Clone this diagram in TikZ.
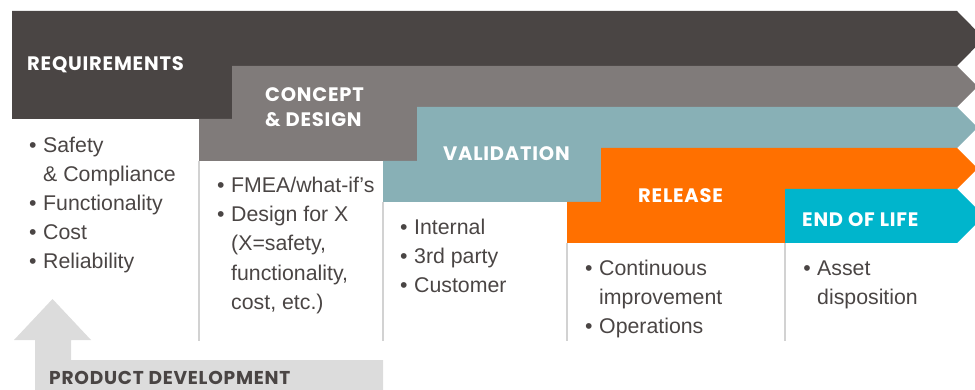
\documentclass[tikz,border=0pt]{standalone}
\usepackage{fontspec}
\setmainfont{Liberation Sans}
\newfontfamily\hdfont{Poppins}[LetterSpace=4]
\definecolor{creq}{HTML}{4A4544}
\definecolor{ccon}{HTML}{807B7A}
\definecolor{cval}{HTML}{88B0B6}
\definecolor{crel}{HTML}{FF7000}
\definecolor{ceol}{HTML}{00B5CC}
\definecolor{cpd}{HTML}{DCDCDC}
\definecolor{cline}{HTML}{D2D2D2}
\definecolor{ctext}{HTML}{4A4544}
\newcommand\bul{\llap{\textbullet\hspace{6.5pt}}}
\tikzset{
  head/.style={anchor=base west, inner sep=0pt, text=white, font=\hdfont\bfseries\fontsize{19.5}{26}\selectfont},
  body/.style={anchor=base west, inner sep=0pt, text=ctext, font=\fontsize{21.3}{29}\selectfont},
  sep/.style={draw=cline, line width=1.6pt},
}
\begin{document}
\begin{tikzpicture}[x=1pt,y=-1pt]
\useasboundingbox (0,0) rectangle (975,390);
\clip (0,0) rectangle (975,390);
% bands
\fill[creq] (12,11) -- (957,11) -- (984,38.5) -- (957,66) -- (232,66) -- (232,119) -- (12,119) -- cycle;
\fill[ccon] (232,66) -- (957,66) -- (977.5,86.5) -- (957,107) -- (417,107) -- (417,161) -- (199,161) -- (199,119) -- (232,119) -- cycle;
\fill[cval] (417,107) -- (957,107) -- (977.5,127.5) -- (957,148) -- (601,148) -- (601,202) -- (383,202) -- (383,161) -- (417,161) -- cycle;
\fill[crel] (601,148) -- (957,148) -- (977.5,168.5) -- (957,189) -- (785,189) -- (785,243) -- (567,243) -- (567,202) -- (601,202) -- cycle;
\fill[ceol] (785,189) -- (957,189) -- (984,216) -- (957,243) -- (785,243) -- cycle;
% column separators
\coordinate (s1a) at (199,161); \coordinate (s1b) at (199,341);
\coordinate (s2a) at (383,202); \coordinate (s2b) at (383,341);
\coordinate (s3a) at (567,243); \coordinate (s3b) at (567,341);
\coordinate (s4a) at (785,243); \coordinate (s4b) at (785,341);
\draw[sep] (s1a) -- (s1b);
\draw[sep] (s2a) -- (s2b);
\draw[sep] (s3a) -- (s3b);
\draw[sep] (s4a) -- (s4b);
% product development arrow
\fill[cpd] (35,390) -- (35,340) -- (14,340) -- (52.5,299) -- (91,340) -- (71,340) -- (71,360) -- (383,360) -- (383,390) -- cycle;
\node[anchor=base west, inner sep=0pt, text=ctext, font=\hdfont\bfseries\fontsize{18.6}{20}\selectfont] (pd) at (49,384.5) {PRODUCT DEVELOPMENT};
% headings
\node[head] (hreq) at (27,71) {REQUIREMENTS};
\node[head] (hcon1) at (265,101.5) {CONCEPT};
\node[head] (hcon2) at (265,126.5) {\& DESIGN};
\node[head] (hval) at (443,161) {VALIDATION};
\node[head] (hrel) at (638,203) {RELEASE};
\node[head] (heol) at (802,227) {END OF LIFE};
% column 1
\node[body] (a1) at (43,153) {\bul Safety};
\node[body] (a2) at (43,182) {\& Compliance};
\node[body] (a3) at (43,211) {\bul Functionality};
\node[body] (a4) at (43,240) {\bul Cost};
\node[body] (a5) at (43,269) {\bul Reliability};
% column 2
\node[body] (b1) at (231,193) {\bul FMEA/what-if’s};
\node[body] (b2) at (231,222) {\bul Design for X};
\node[body] (b3) at (231,251) {(X=safety,};
\node[body] (b4) at (231,280) {functionality,};
\node[body] (b5) at (231,309) {cost, etc.)};
% column 3
\node[body] (c1) at (414,234.5) {\bul Internal};
\node[body] (c2) at (414,263.5) {\bul 3rd party};
\node[body] (c3) at (414,292.5) {\bul Customer};
% column 4
\node[body] (d1) at (599,275.5) {\bul Continuous};
\node[body] (d2) at (599,304.5) {improvement};
\node[body] (d3) at (599,333.5) {\bul Operations};
% column 5
\node[body] (e1) at (817,275.5) {\bul Asset};
\node[body] (e2) at (817,304.5) {disposition};
\end{tikzpicture}
\end{document}
